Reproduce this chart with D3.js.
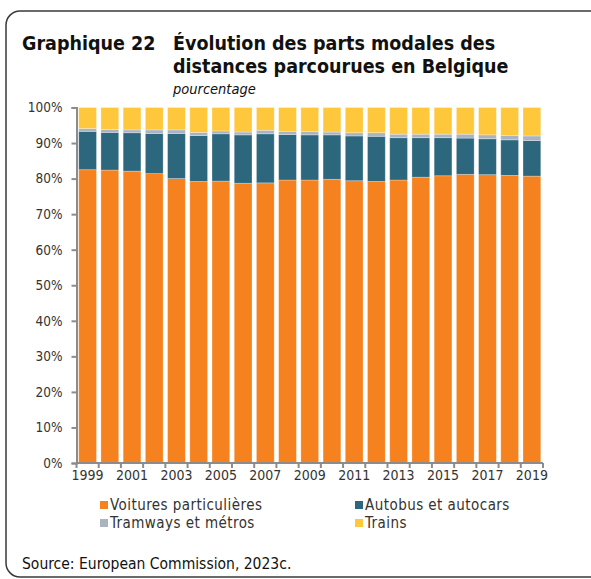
<!DOCTYPE html>
<html lang="fr">
<head>
<meta charset="utf-8">
<script src="https://cdn.jsdelivr.net/npm/d3@7"></script>
<style>
  html, body { margin: 0; padding: 0; background: #ffffff; }
  svg { display: block; }
  text { font-family: "DejaVu Sans Condensed", "DejaVu Sans", sans-serif; font-stretch: condensed; }
</style>
</head>
<body>
<svg id="chart" width="591" height="579"></svg>
<script>
// Parts modales des distances parcourues en Belgique (% des voyageurs-km)
const years = ["1999","2000","2001","2002","2003","2004","2005","2006","2007","2008","2009",
               "2010","2011","2012","2013","2014","2015","2016","2017","2018","2019"];
const voitures = [82.5,82.4,82.1,81.4,80.0,79.2,79.3,78.7,78.8,79.6,79.6,79.8,79.4,79.2,79.6,80.4,80.8,81.2,81.1,80.9,80.7];
const autobus  = [10.8,10.6,10.8,11.3,12.7,12.9,13.3,13.6,13.8,12.8,12.7,12.5,12.6,12.7,11.9,11.1,10.7,10.2,10.1,10.0,10.0];
const tramways = [0.8,0.8,0.8,1.0,1.0,0.9,0.8,0.8,1.0,0.9,0.9,0.8,0.9,1.0,1.0,1.0,1.0,1.1,1.1,1.2,1.3];
const trains   = [5.9,6.2,6.3,6.3,6.3,7.0,6.6,6.9,6.4,6.7,6.8,6.9,7.1,7.1,7.5,7.5,7.5,7.5,7.7,7.9,8.0];
const seriesNames = ["Voitures particulières","Autobus et autocars","Tramways et métros","Trains"];
const yTicks = [0,10,20,30,40,50,60,70,80,90,100];
const xLabelYears = ["1999","2001","2003","2005","2007","2009","2011","2013","2015","2017","2019"];

const colors = ["#F5821F", "#2C677E", "#A9B4C0", "#FFC73C"];
const keys = ["voitures","autobus","tramways","trains"];

const table = years.map((yr, i) => ({
  year: yr, voitures: voitures[i], autobus: autobus[i], tramways: tramways[i], trains: trains[i]
}));

const svg = d3.select("#chart");

// cadre arrondi
svg.append("rect")
  .attr("x", 6).attr("y", 11)
  .attr("width", 600).attr("height", 566)
  .attr("rx", 14).attr("ry", 14)
  .attr("fill", "none")
  .attr("stroke", "#3a3a3a")
  .attr("stroke-width", 1.5);

// titre
const titleSize = 19.5;
svg.append("text")
  .attr("x", 22).attr("y", 50)
  .attr("font-size", titleSize).attr("font-weight", "bold").attr("fill", "#111")
  .text("Graphique 22");
svg.append("text")
  .attr("x", 173).attr("y", 50)
  .attr("font-size", titleSize).attr("font-weight", "bold").attr("fill", "#111")
  .text("Évolution des parts modales des");
svg.append("text")
  .attr("x", 173).attr("y", 73)
  .attr("font-size", titleSize).attr("font-weight", "bold").attr("fill", "#111")
  .text("distances parcourues en Belgique");
svg.append("text")
  .attr("x", 173).attr("y", 94)
  .attr("font-size", 14.5).attr("font-style", "italic").attr("fill", "#111")
  .text("pourcentage");

const x0 = 76.5, x1 = 543, yBottom = 463, yTop = 107.5;

const x = d3.scaleBand().domain(years).range([x0, x1]).paddingInner(0.2).paddingOuter(0.1);
const y = d3.scaleLinear().domain([0, 100]).range([yBottom, yTop]);

const stack = d3.stack().keys(keys);
const layers = stack(table);

svg.append("g").selectAll("g")
  .data(layers)
  .join("g")
  .attr("fill", (d, i) => colors[i])
  .selectAll("rect")
  .data(d => d)
  .join("rect")
  .attr("x", d => x(d.data.year))
  .attr("width", x.bandwidth())
  .attr("y", d => y(d[1]))
  .attr("height", d => y(d[0]) - y(d[1]))
  .attr("stroke", "#ffffff")
  .attr("stroke-opacity", 0.35)
  .attr("stroke-width", 0.8);

const axisColor = "#8c8c8c";

// axe vertical
const yAxis = svg.append("g")
  .attr("transform", `translate(${x0},0)`)
  .call(d3.axisLeft(y).tickValues(yTicks).tickFormat(d => d + "%").tickSize(5).tickPadding(9));
yAxis.select(".domain").attr("stroke", axisColor).attr("stroke-width", 2);
yAxis.selectAll(".tick line").attr("stroke", axisColor).attr("stroke-width", 2);
yAxis.selectAll(".tick text")
  .attr("font-size", 13.5).attr("fill", "#333")
  .style("font-family", "'DejaVu Sans Condensed','DejaVu Sans',sans-serif");

// axe horizontal : graduations entre les catégories, étiquettes une année sur deux
const step = x.step();
const boundaries = d3.range(years.length + 1).map(i => x0 + i * step);
const xg = svg.append("g");
xg.append("line")
  .attr("x1", x0).attr("x2", x1).attr("y1", yBottom).attr("y2", yBottom)
  .attr("stroke", axisColor).attr("stroke-width", 2);
xg.selectAll("line.tk")
  .data(boundaries)
  .join("line")
  .attr("class", "tk")
  .attr("x1", d => d).attr("x2", d => d)
  .attr("y1", yBottom).attr("y2", yBottom + 5)
  .attr("stroke", axisColor).attr("stroke-width", 2);
xg.selectAll("text")
  .data(xLabelYears)
  .join("text")
  .attr("x", d => x(d) + x.bandwidth() / 2)
  .attr("y", 480)
  .attr("text-anchor", "middle")
  .attr("font-size", 14).attr("fill", "#333")
  .text(d => d);

// légende
const legendPos = [[100, 505], [355, 505], [100, 523], [355, 523]];
const lg = svg.append("g");
seriesNames.forEach((name, i) => {
  const [lx, ly] = legendPos[i];
  lg.append("rect")
    .attr("x", lx).attr("y", ly - 4).attr("width", 8).attr("height", 8)
    .attr("fill", colors[i]);
  lg.append("text")
    .attr("x", lx + 10).attr("y", ly + 5)
    .attr("font-size", 15).attr("letter-spacing", 0.45).attr("fill", "#333")
    .text(name);
});

// source
svg.append("text")
  .attr("x", 22).attr("y", 569)
  .attr("font-size", 15.5).attr("fill", "#111")
  .text("Source: European Commission, 2023c.");
</script>
</body>
</html>
